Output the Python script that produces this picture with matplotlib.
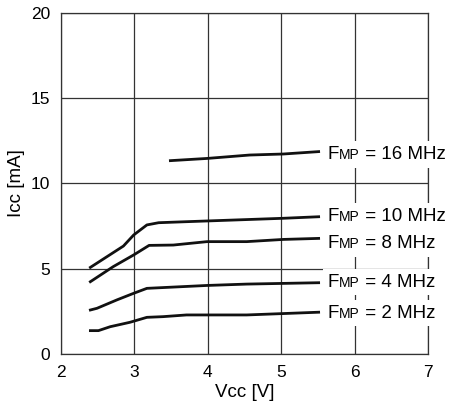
import matplotlib.pyplot as plt
from matplotlib.offsetbox import TextArea, HPacker, AnnotationBbox

plt.rcParams['font.family'] = ['Liberation Sans', 'DejaVu Sans']

# supply current curves
vcc_16 = [3.49, 3.99, 4.57, 5.03, 5.51]
icc_16 = [11.34, 11.47, 11.67, 11.73, 11.87]

vcc_10 = [2.40, 2.85, 2.99, 3.17, 3.33, 3.71, 5.03, 5.51]
icc_10 = [5.08, 6.33, 6.98, 7.57, 7.70, 7.76, 7.96, 8.05]

vcc_8 = [2.40, 2.71, 2.99, 3.20, 3.53, 3.99, 4.53, 5.03, 5.51]
icc_8 = [4.24, 5.12, 5.81, 6.37, 6.39, 6.59, 6.59, 6.72, 6.78]

vcc_4 = [2.40, 2.49, 2.76, 2.99, 3.17, 3.99, 4.53, 5.51]
icc_4 = [2.58, 2.68, 3.17, 3.56, 3.85, 4.02, 4.10, 4.18]

vcc_2 = [2.40, 2.51, 2.67, 2.94, 3.17, 3.39, 3.71, 4.53, 5.51]
icc_2 = [1.37, 1.37, 1.60, 1.86, 2.15, 2.19, 2.29, 2.29, 2.45]

freqs = ['16', '10', '8', '4', '2']
label_y = [11.7, 8.05, 6.5, 4.22, 2.4]

fig = plt.figure(figsize=(4.5, 4.09), dpi=100)
ax = fig.add_axes([0.1356, 0.1345, 0.8155, 0.8337])

for v, i in [(vcc_16, icc_16), (vcc_10, icc_10), (vcc_8, icc_8),
             (vcc_4, icc_4), (vcc_2, icc_2)]:
    ax.plot(v, i, color='#111111', linewidth=2.0, zorder=3)

# labels with white boxes (they hide grid and spine behind them)
for f, y in zip(freqs, label_y):
    parts = [TextArea('F', textprops=dict(size=13.5)),
             TextArea('MP', textprops=dict(size=10)),
             TextArea(' = ' + f + ' MHz', textprops=dict(size=13.5))]
    box = HPacker(children=parts, align='baseline', pad=0, sep=0)
    ab = AnnotationBbox(box, (5.63, y), xycoords='data', box_alignment=(0, 0.5),
                        frameon=True, pad=0.35, annotation_clip=False,
                        bboxprops=dict(fc='white', ec='none'))
    ab.set_zorder(5)
    ax.add_artist(ab)

ax.set_xlim(2, 7)
ax.set_ylim(0, 20)
ax.set_xticks([2, 3, 4, 5, 6, 7])
ax.set_yticks([0, 5, 10, 15, 20])
ax.grid(True, color='#333333', linewidth=0.9)
ax.set_axisbelow(True)
ax.tick_params(length=0, labelsize=12.5, pad=8)
for s in ax.spines.values():
    s.set_color('#333333')
    s.set_linewidth(0.9)
ax.set_xlabel('Vcc [V]', fontsize=13.5, labelpad=3)
ax.set_ylabel('Icc [mA]', fontsize=13.5, labelpad=4)

plt.savefig('out.png', dpi=100)
